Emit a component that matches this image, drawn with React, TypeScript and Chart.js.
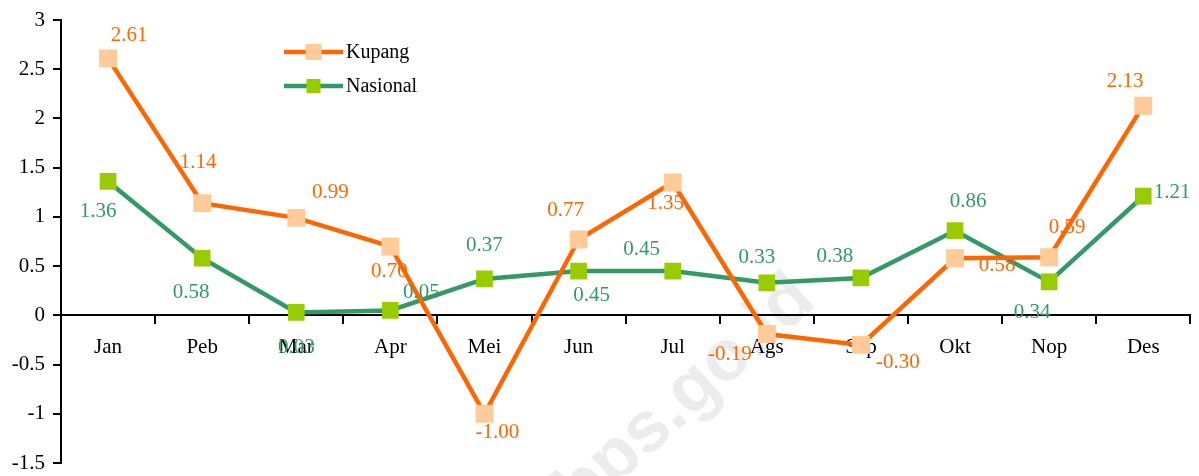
import React, { useEffect, useRef } from 'react';
import { Chart, registerables } from 'chart.js';

Chart.register(...registerables);

// ---- data ----
const categories = ['Jan', 'Peb', 'Mar', 'Apr', 'Mei', 'Jun', 'Jul', 'Ags', 'Sep', 'Okt', 'Nop', 'Des'];
const kupang = [2.61, 1.14, 0.99, 0.7, -1.0, 0.77, 1.35, -0.19, -0.3, 0.58, 0.59, 2.13];
const nasional = [1.36, 0.58, 0.03, 0.05, 0.37, 0.45, 0.45, 0.33, 0.38, 0.86, 0.34, 1.21];
const seriesNames = ['Kupang', 'Nasional'];
const yMin = -1.5;
const yMax = 3;
const yStep = 0.5;

// ---- styling / layout ----
const FONT = '"Liberation Serif", "Times New Roman", Times, serif';
const lineColors = ['#FF6600', '#339966'];
const markerColors = ['#FFCC99', '#99CC00'];
const markerRadius = [12.7, 11.8];
const labelColors = ['#FF6600', '#339966'];
// pixel offsets of each value label from its point
const kupangLabelOffsets = [
  [21, -23], [-4, -41], [34, -25], [-1, 25], [13, 19], [-13, -29],
  [-7, 21], [-37, 20], [37, 18], [42, 7], [18, -30], [-18, -24],
];
const nasionalLabelOffsets = [
  [-10, 30], [-11, 34], [0, 35], [31, -18], [0, -33], [13, 24],
  [-31, -22], [-10, -25], [-26, -21], [13, -29], [-17, 31], [29, -4],
];
const legendItems = [
  { x1: 284, x2: 343, y: 52, marker: 16, textX: 346 },
  { x1: 284, x2: 343, y: 86, marker: 14, textX: 346 },
];
const CANVAS_W = 1203; // drawn area; the wrapper clips to 1199
const CANVAS_H = 476;

const zeroSidePadding = (scale: any) => {
  scale.paddingLeft = 0;
  scale.paddingRight = 0;
  scale.paddingTop = 0;
  scale.paddingBottom = 0;
};

export default function App() {
  const ref = useRef<HTMLCanvasElement>(null);

  useEffect(() => {
    if (!ref.current) return;

    const watermarkPlugin = {
      id: 'watermark',
      beforeDatasetsDraw(chart: any) {
        const ctx = chart.ctx;
        ctx.save();
        ctx.translate(686, 396);
        ctx.rotate((-42 * Math.PI) / 180);
        ctx.font = 'bold 72px "Liberation Sans", Arial, sans-serif';
        ctx.fillStyle = 'rgba(0,0,0,0.075)';
        ctx.textAlign = 'center';
        ctx.textBaseline = 'middle';
        ctx.fillText('bps.go.id', 0, 0);
        ctx.restore();
      },
    };

    const valueLabelPlugin = {
      id: 'valueLabels',
      afterDatasetsDraw(chart: any) {
        const ctx = chart.ctx;
        ctx.save();
        ctx.font = `21px ${FONT}`;
        ctx.textAlign = 'center';
        ctx.textBaseline = 'middle';
        chart.data.datasets.forEach((ds: any, i: number) => {
          const meta = chart.getDatasetMeta(i);
          const offs = i === 0 ? kupangLabelOffsets : nasionalLabelOffsets;
          ctx.fillStyle = labelColors[i];
          meta.data.forEach((pt: any, j: number) => {
            ctx.fillText(Number(ds.data[j]).toFixed(2), pt.x + offs[j][0], pt.y + offs[j][1]);
          });
        });
        ctx.restore();
      },
    };

    const legendPlugin = {
      id: 'customLegend',
      afterDraw(chart: any) {
        const ctx = chart.ctx;
        ctx.save();
        legendItems.forEach((it, i) => {
          ctx.strokeStyle = lineColors[i];
          ctx.lineWidth = 4.5;
          ctx.beginPath();
          ctx.moveTo(it.x1, it.y);
          ctx.lineTo(it.x2, it.y);
          ctx.stroke();
          const cx = (it.x1 + it.x2) / 2;
          ctx.fillStyle = markerColors[i];
          ctx.fillRect(cx - it.marker / 2, it.y - it.marker / 2, it.marker, it.marker);
          ctx.fillStyle = '#000';
          ctx.font = `20px ${FONT}`;
          ctx.textAlign = 'left';
          ctx.textBaseline = 'middle';
          ctx.fillText(seriesNames[i], it.textX, it.y + 1);
        });
        ctx.restore();
      },
    };

    const chart = new Chart(ref.current, {
      type: 'line',
      data: {
        labels: categories,
        datasets: [
          {
            label: seriesNames[0],
            data: kupang,
            borderColor: lineColors[0],
            borderWidth: 4.5,
            backgroundColor: markerColors[0],
            pointStyle: 'rect',
            pointRadius: markerRadius[0],
            pointBackgroundColor: markerColors[0],
            pointBorderWidth: 0,
            tension: 0,
            fill: false,
          },
          {
            label: seriesNames[1],
            data: nasional,
            borderColor: lineColors[1],
            borderWidth: 4.5,
            backgroundColor: markerColors[1],
            pointStyle: 'rect',
            pointRadius: markerRadius[1],
            pointBackgroundColor: markerColors[1],
            pointBorderWidth: 0,
            tension: 0,
            fill: false,
          },
        ],
      },
      options: {
        responsive: false,
        animation: false,
        layout: { padding: { top: 20, right: 5, bottom: 13, left: 0 } },
        plugins: {
          legend: { display: false },
          tooltip: { enabled: false },
        },
        scales: {
          x: {
            type: 'category',
            position: { y: 0 } as any,
            offset: true,
            afterFit: zeroSidePadding,
            grid: {
              offset: true,
              drawOnChartArea: false,
              drawTicks: true,
              tickLength: 8,
              color: '#000',
              lineWidth: 2,
            },
            border: { display: true, color: '#000', width: 2 },
            ticks: { display: false },
          },
          x2: {
            type: 'category',
            axis: 'x',
            position: { y: 0 } as any,
            offset: true,
            z: 2,
            afterFit: zeroSidePadding,
            grid: { display: false, drawTicks: true, tickLength: 8 },
            border: { display: false },
            ticks: {
              display: true,
              padding: 12,
              color: '#000',
              font: { family: FONT, size: 21 },
              maxRotation: 0,
              autoSkip: false,
            },
          },
          y: {
            type: 'linear',
            min: yMin,
            max: yMax,
            afterFit(scale: any) {
              scale.width = 61;
              zeroSidePadding(scale);
            },
            grid: {
              drawOnChartArea: false,
              drawTicks: true,
              tickLength: 8,
              color: '#000',
              lineWidth: 2,
            },
            border: { display: true, color: '#000', width: 2 },
            ticks: {
              stepSize: yStep,
              padding: 8,
              color: '#000',
              font: { family: FONT, size: 21 },
              callback: (v: any) => String(Number(v)),
            },
          },
        },
      } as any,
      plugins: [watermarkPlugin, valueLabelPlugin, legendPlugin],
    });

    return () => chart.destroy();
  }, []);

  return (
    <div
      style={{
        position: 'absolute',
        left: 0,
        top: 0,
        width: 1199,
        height: 476,
        overflow: 'hidden',
        background: '#fff',
      }}
    >
      <canvas ref={ref} width={CANVAS_W} height={CANVAS_H} style={{ display: 'block' }} />
    </div>
  );
}
